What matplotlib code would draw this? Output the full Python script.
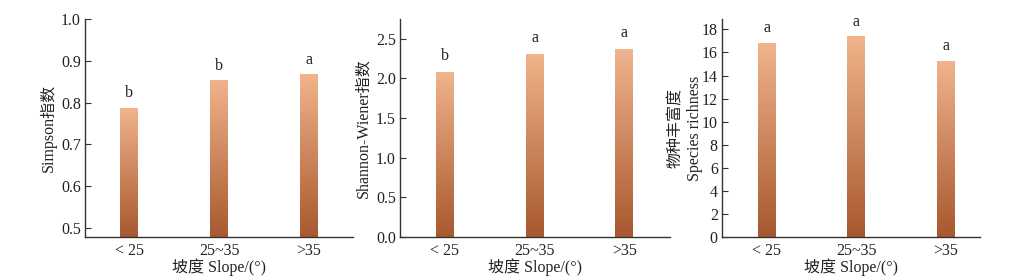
import numpy as np
import matplotlib
matplotlib.use("Agg")
import matplotlib.pyplot as plt
from matplotlib.colors import LinearSegmentedColormap

plt.rcParams['font.family'] = ['Liberation Serif', 'Noto Sans CJK SC']
plt.rcParams['font.size'] = 11.5

categories = ["< 25", "25~35", ">35"]
simpson = [0.788, 0.854, 0.868]
simpson_letters = ["b", "b", "a"]
shannon = [2.083, 2.31, 2.37]
shannon_letters = ["b", "a", "a"]
richness = [16.84, 17.42, 15.3]
richness_letters = ["a", "a", "a"]

xlabel = "坡度 Slope/(°)"
ylabels = ["Simpson指数", "Shannon-Wiener指数", "物种丰富度\nSpecies richness"]

cmap = LinearSegmentedColormap.from_list("grad", ["#a8582e", "#f1b48c"])

FS = 11.5
fig = plt.figure(figsize=(10.3, 2.79), dpi=100)
W, H = 1030, 279
panels = [
    dict(left=85, right=353, vals=simpson, letters=simpson_letters, ylim=(0.478, 1.0),
         yticks=[0.5, 0.6, 0.7, 0.8, 0.9, 1.0], fmt="{:.1f}", xlim=(-0.49, 2.49), off=0.015, lp=3),
    dict(left=400, right=670, vals=shannon, letters=shannon_letters, ylim=(0, 2.75),
         yticks=[0.0, 0.5, 1.0, 1.5, 2.0, 2.5], fmt="{:.1f}", xlim=(-0.5, 2.51), off=0.1, lp=3),
    dict(left=722, right=980, vals=richness, letters=richness_letters, ylim=(0, 18.9),
         yticks=list(range(0, 19, 2)), fmt="{:d}", xlim=(-0.5, 2.38), off=0.55, lp=-0.5),
]
top_px, bot_px = 19, 237
for i, p in enumerate(panels):
    ax = fig.add_axes([p["left"] / W, 1 - bot_px / H, (p["right"] - p["left"]) / W, (bot_px - top_px) / H])
    x = np.arange(len(categories))
    bars = ax.bar(x, p["vals"], width=0.2, color="none", edgecolor="none", zorder=2)
    grad = np.linspace(0, 1, 256).reshape(-1, 1)
    for b in bars:
        x0, y0 = b.get_x(), p["ylim"][0]
        im = ax.imshow(grad, cmap=cmap, aspect="auto", origin="lower",
                       extent=[x0, x0 + b.get_width(), y0, b.get_height()], zorder=2)
        im.set_clip_path(b)
    for xi, v, l in zip(x, p["vals"], p["letters"]):
        ax.text(xi, v + p["off"], l, ha="center", va="bottom", fontsize=FS, color="#222222")
    ax.set_xlim(*p["xlim"])
    ax.set_ylim(*p["ylim"])
    ax.set_yticks(p["yticks"])
    ax.set_yticklabels([p["fmt"].format(t) for t in p["yticks"]])
    ax.set_xticks(x)
    ax.set_xticklabels(categories)
    ax.tick_params(direction="in", length=4, width=0.8, colors="#333333", labelcolor="#222222", labelsize=FS, pad=3)
    ax.tick_params(axis="x", pad=4)
    for s in ["top", "right"]:
        ax.spines[s].set_visible(False)
    for s in ["left", "bottom"]:
        ax.spines[s].set_color("#333333")
        ax.spines[s].set_linewidth(1.0)
    ax.set_xlabel(xlabel, fontsize=FS, labelpad=0, color="#222222")
    ax.set_ylabel(ylabels[i], fontsize=FS, labelpad=p["lp"], color="#222222", linespacing=1.2)

fig.savefig("out.png", dpi=100, facecolor="white")
